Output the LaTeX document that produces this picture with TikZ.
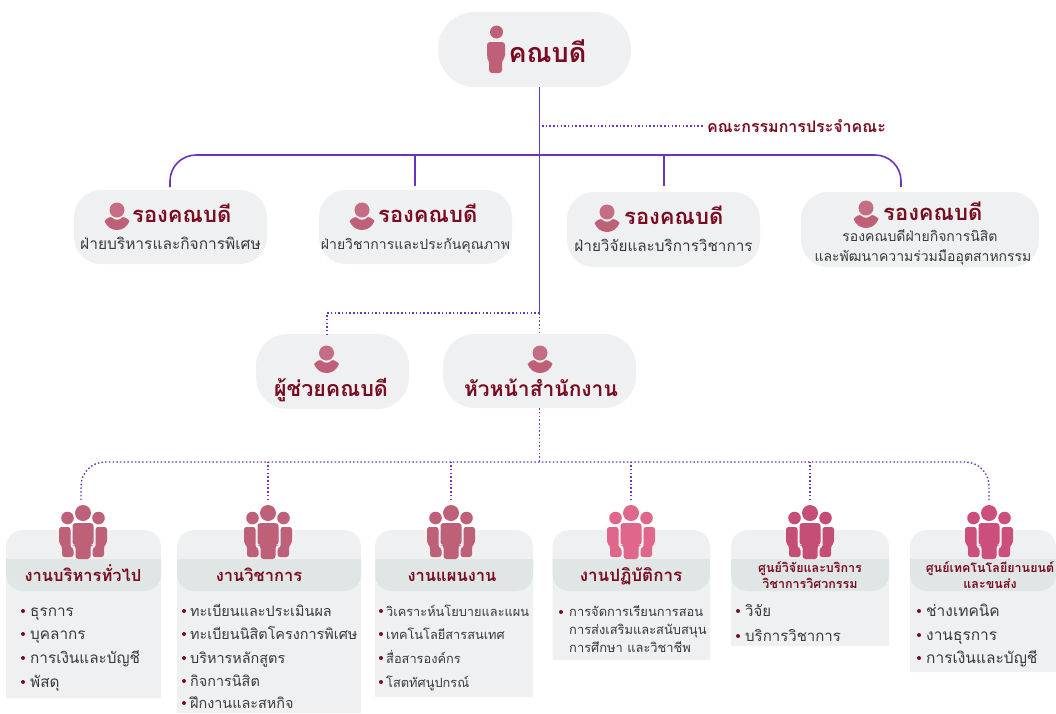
\documentclass[tikz,border=0pt]{standalone}
\usepackage{fontspec}
\setmainfont[Script=Thai]{Loma}
\usetikzlibrary{calc}
\definecolor{boxgray}{HTML}{EEF0F1}
\definecolor{bandgray}{HTML}{DFE6E5}
\definecolor{maroon}{HTML}{7A0C22}
\definecolor{bodytxt}{HTML}{3A3A3E}
\definecolor{linepurple}{HTML}{6A35BE}
\definecolor{iconA}{HTML}{BF6079}
\definecolor{iconB}{HTML}{E0678C}
\definecolor{iconC}{HTML}{C44E76}
\definecolor{iconD}{HTML}{CB4F7A}
\newcommand{\fs}[1]{\fontsize{#1}{#1}\selectfont}
\tikzset{
  x=1pt,y=-1pt,
  pill/.style={fill=boxgray,draw=none,rounded corners=#1,inner sep=0pt},
  boldtitle/.style={font=\bfseries\fs{#1},text=maroon,inner sep=0pt,anchor=base},
  subtxt/.style={font=\fs{#1},text=bodytxt,inner sep=0pt,anchor=base},
  itemtxt/.style={font=\fs{#1},text=bodytxt,inner sep=0pt,anchor=base west},
  bulletdot/.style={circle,fill=maroon,minimum size=4pt,inner sep=0pt},
  solidline/.style={draw=linepurple,line width=1.6pt},
  dotline/.style={draw=linepurple,line width=1.4pt,dash pattern=on 1.5pt off 2.2pt},
  pics/bust/.style={code={
    \fill[iconA!92!white] (0,0) circle[radius=7.5];
    \fill[iconA] (-12.5,11) .. controls (-10,8) and (-7,6.5) .. (-5,7.5)
       .. controls (-3,10.5) and (3,10.5) .. (5,7.5)
       .. controls (7,6.5) and (10,8) .. (12.5,11)
       .. controls (8,23) and (-8,23) .. (-12.5,11) -- cycle;
  }},
  pics/crowd/.style={code={
    \fill[#1] (0,-46) circle[radius=8];
    \fill[#1] (-15.5,-41) circle[radius=6.3];
    \fill[#1] (15.5,-41) circle[radius=6.3];
    \fill[#1,rounded corners=3] (-10.5,-36) -- (10.5,-36) -- (10.5,-14) -- (7.5,-14) -- (7.5,0) -- (-7.5,0) -- (-7.5,-14) -- (-10.5,-14) -- cycle;
    \fill[#1,rounded corners=2.5] (-12.5,-32) -- (-24,-32) -- (-24,-16) -- (-21,-13) -- (-21,-2) -- (-9.5,-2) -- (-9.5,-11) -- (-12.5,-11) -- cycle;
    \fill[#1,rounded corners=2.5] (12.5,-32) -- (24,-32) -- (24,-16) -- (21,-13) -- (21,-2) -- (9.5,-2) -- (9.5,-11) -- (12.5,-11) -- cycle;
  }},
}
\newcommand{\cardbg}[3]{% x0, x1, ybottom
  \fill[boxgray] (#1,#3) -- (#1,548)
     .. controls (#1,537) and (#1+7,530) .. (#1+18,530)
     -- (#2-18,530)
     .. controls (#2-7,530) and (#2,537) .. (#2,548)
     -- (#2,#3) -- cycle;
  \fill[bandgray] (#1,559) -- (#1,573)
     .. controls (#1,584) and (#1+7,591) .. (#1+18,591)
     -- (#2-18,591)
     .. controls (#2-7,591) and (#2,584) .. (#2,573)
     -- (#2,559) -- cycle;
}
\begin{document}
\begin{tikzpicture}
\useasboundingbox (0,0) rectangle (1056,713);
\fill[white] (0,0) rectangle (1056,713);

% ---- top boxes
\node[pill=37,minimum width=193pt,minimum height=75pt] (dean) at (534.5,49.5) {};
\node[pill=27,minimum width=193pt,minimum height=74pt] (vp1) at (170.5,227) {};
\node[pill=27,minimum width=193pt,minimum height=74pt] (vp2) at (415.5,227) {};
\node[pill=27,minimum width=193pt,minimum height=75pt] (vp3) at (663.5,229.5) {};
\node[pill=27,minimum width=238pt,minimum height=75pt] (vp4) at (920,229.5) {};
\node[pill=32,minimum width=153pt,minimum height=75pt] (asst) at (332.5,371.5) {};
\node[pill=32,minimum width=193pt,minimum height=74pt] (head) at (539.5,371) {};

% ---- connector anchors
\coordinate (jcommittee) at (542,126);
\coordinate (jbar) at (539.5,155);
\coordinate (vp1t) at (170,187);
\coordinate (vp2t) at (415,186);
\coordinate (vp3t) at (664,186);
\coordinate (vp4t) at (901,187);
\coordinate (jdot) at (539.5,313);
\coordinate (jbot) at (539.5,462);
\coordinate (asstt) at (327,334);
\coordinate (g1t) at (81,500);
\coordinate (g2t) at (268,500);
\coordinate (g3t) at (451,500);
\coordinate (g4t) at (631,500);
\coordinate (g5t) at (810,500);
\coordinate (g6t) at (989,500);

% ---- solid connectors
\draw[solidline] (dean.south -| jdot) -- (jdot);
\draw[solidline,rounded corners=26] (vp1t) |- (jbar) -| (vp4t);
\draw[solidline] (vp2t) -- (vp2t |- jbar);
\draw[solidline] (vp3t) -- (vp3t |- jbar);

% ---- dotted connectors
\node[boldtitle=16,anchor=base west] (committee) at (707,132) {คณะกรรมการประจำคณะ};
\coordinate (cend) at (703,126);
\draw[dotline] (jcommittee) -- (cend);
\draw[dotline] (jdot) -| (asstt);
\draw[dotline] (jdot) -- (head.north);
\draw[dotline] (head.south) -- (jbot);
\draw[dotline,rounded corners=24] (g1t) |- (jbot) -| (g6t);
\foreach \n in {g2t,g3t,g4t,g5t} \draw[dotline] (\n) -- (\n |- jbot);

% ---- dean
\fill[iconA] (496.5,32) circle[radius=6.5];
\fill[iconA,rounded corners=3] (487,42) -- (505,42) -- (505,58) -- (502,60) -- (502,73) -- (489,73) -- (489,60) -- (487,58) -- cycle;
\node[boldtitle=27] (deant) at (547.5,62) {คณบดี};

% ---- vice deans
\pic at (117,210) {bust};
\node[boldtitle=22,anchor=base west] (vp1a) at (132,222) {รองคณบดี};
\node[subtxt=15.5] (vp1b) at (170.5,249) {ฝ่ายบริหารและกิจการพิเศษ};
\pic at (362,210) {bust};
\node[boldtitle=22,anchor=base west] (vp2a) at (378,222) {รองคณบดี};
\node[subtxt=14] (vp2b) at (415.5,249) {ฝ่ายวิชาการและประกันคุณภาพ};
\pic at (607,212) {bust};
\node[boldtitle=22,anchor=base west] (vp3a) at (624,224) {รองคณบดี};
\node[subtxt=15.3] (vp3b) at (663.5,251) {ฝ่ายวิจัยและบริการวิชาการ};
\pic at (866,208) {bust};
\node[boldtitle=22,anchor=base west] (vp4a) at (883,220) {รองคณบดี};
\node[subtxt=14] (vp4b) at (920,241) {รองคณบดีฝ่ายกิจการนิสิต};
\node[subtxt=14] (vp4c) at (923,261) {และพัฒนาความร่วมมืออุตสาหกรรม};

% ---- assistant & head
\pic at (326.5,353) {bust};
\node[boldtitle=21.5] (asstn) at (331,396) {ผู้ช่วยคณบดี};
\pic at (540,353) {bust};
\node[boldtitle=21] (headt) at (541,396) {หัวหน้าสำนักงาน};

% ---- cards
\cardbg{6}{161}{698}
\cardbg{177}{361}{713}
\cardbg{375}{533}{697}
\cardbg{552.5}{710}{660}
\cardbg{731}{889}{646}
\cardbg{910}{1056}{672}

\pic at (83,559) {crowd=iconA};
\pic at (268,559) {crowd=iconA};
\pic at (451,559) {crowd=iconA};
\pic at (631,559) {crowd=iconB};
\pic at (810,559) {crowd=iconC};
\pic at (989,559) {crowd=iconD};

\node[boldtitle=16.5] (t1) at (83,581) {งานบริหารทั่วไป};
\node[boldtitle=16.5] (t2) at (259,581) {งานวิชาการ};
\node[boldtitle=16.5] (t3) at (452,581) {งานแผนงาน};
\node[boldtitle=17] (t4) at (631,581) {งานปฏิบัติการ};
\node[boldtitle=12.5] (t5a) at (810,572) {ศูนย์วิจัยและบริการ};
\node[boldtitle=12.5] (t5b) at (810,588) {วิชาการวิศวกรรม};
\node[boldtitle=12.5] (t6a) at (990,572) {ศูนย์เทคโนโลยียานยนต์};
\node[boldtitle=12.5] (t6b) at (990,588) {และขนส่ง};

% ---- items
\foreach \nm/\y/\t in {a/611/ธุรการ,b/634/บุคลากร,c/658/การเงินและบัญชี,d/682/พัสดุ}{
  \node[bulletdot] (i1\nm) at (23,\y) {};
  \node[itemtxt=15.3] (x1\nm) at (30,\y+5.5) {\t};
}
\foreach \nm/\y/\t in {a/611/ทะเบียนและประเมินผล,b/634/ทะเบียนนิสิตโครงการพิเศษ,c/658/บริหารหลักสูตร,d/681/กิจการนิสิต,e/703/ฝึกงานและสหกิจ}{
  \node[bulletdot] (i2\nm) at (184,\y) {};
  \node[itemtxt=14.4] (x2\nm) at (190,\y+5) {\t};
}
\foreach \nm/\y/\t in {a/611/วิเคราะห์นโยบายและแผน,b/634/เทคโนโลยีสารสนเทศ,c/658/สื่อสารองค์กร,d/682/โสตทัศนูปกรณ์}{
  \node[bulletdot] (i3\nm) at (381,\y) {};
  \node[itemtxt=12.8] (x3\nm) at (386,\y+5) {\t};
}
\node[bulletdot] (i4a) at (561,612) {};
\foreach \nm/\y/\t in {a/611/การจัดการเรียนการสอน,b/629/การส่งเสริมและสนับสนุน,c/647/การศึกษา และวิชาชีพ}{
  \node[itemtxt=12.9] (x4\nm) at (569,\y+5) {\t};
}
\foreach \nm/\y/\t in {a/611/วิจัย,b/636/บริการวิชาการ}{
  \node[bulletdot] (i5\nm) at (738,\y) {};
  \node[itemtxt=15] (x5\nm) at (745,\y+5.5) {\t};
}
\foreach \nm/\y/\t in {a/611/ช่างเทคนิค,b/635/งานธุรการ,c/658/การเงินและบัญชี}{
  \node[bulletdot] (i6\nm) at (919,\y) {};
  \node[itemtxt=15.5] (x6\nm) at (926,\y+5.5) {\t};
}
\end{tikzpicture}
\end{document}
